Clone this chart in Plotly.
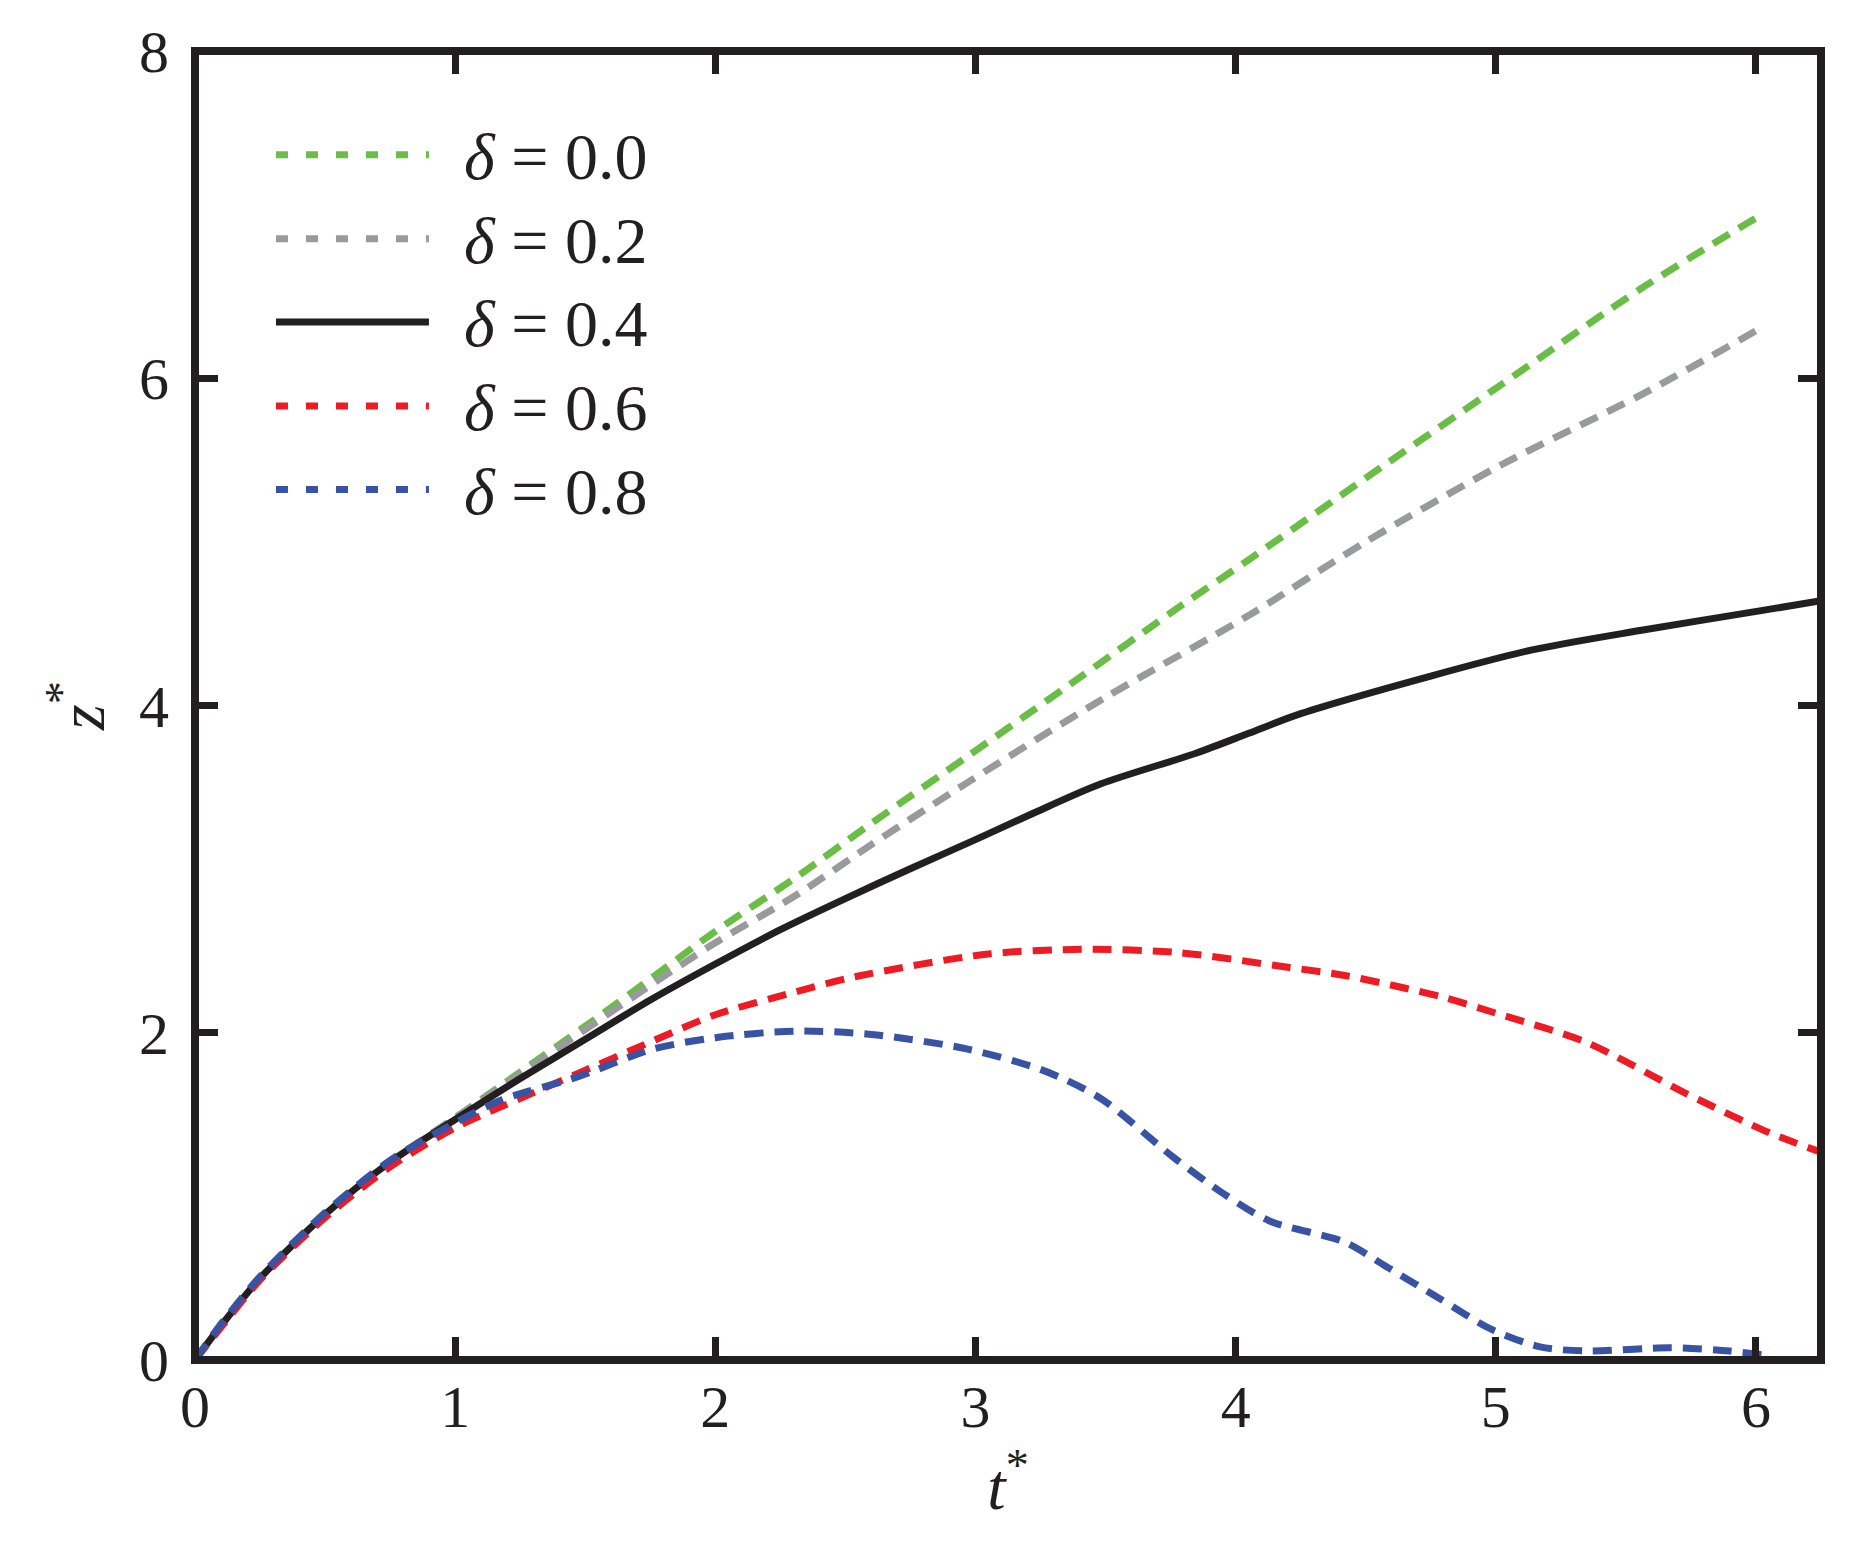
import plotly.graph_objects as go

# ---- data ----
t_d00 = [0, 0.1, 0.25, 0.5, 0.75, 1.0, 1.25, 1.5, 1.76, 2.0, 2.31, 2.6, 2.97, 3.4, 3.79, 4.05, 4.5, 5.02, 5.56, 6.0]
z_d00 = [0, 0.21, 0.5, 0.89, 1.21, 1.48, 1.76, 2.04, 2.34, 2.62, 2.95, 3.28, 3.69, 4.17, 4.61, 4.89, 5.39, 5.96, 6.55, 6.98]

t_d02 = [0, 0.1, 0.25, 0.5, 0.75, 1.0, 1.25, 1.5, 1.76, 2.0, 2.31, 2.6, 2.97, 3.5, 4.05, 4.5, 5.02, 5.56, 6.0]
z_d02 = [0, 0.21, 0.5, 0.89, 1.21, 1.48, 1.75, 2.02, 2.30, 2.55, 2.84, 3.15, 3.53, 4.05, 4.55, 5.0, 5.47, 5.90, 6.29]

t_d04 = [0, 0.1, 0.25, 0.5, 0.75, 1.0, 1.25, 1.5, 1.75, 2.0, 2.25, 2.5, 2.76, 3.0, 3.22, 3.48, 3.85, 4.05, 4.25, 4.75, 5.14, 5.56, 6.02, 6.25]
z_d04 = [0, 0.21, 0.5, 0.89, 1.21, 1.47, 1.72, 1.96, 2.20, 2.42, 2.63, 2.82, 3.01, 3.18, 3.34, 3.52, 3.71, 3.83, 3.95, 4.18, 4.34, 4.46, 4.58, 4.64]

t_d06 = [0, 0.1, 0.25, 0.5, 0.75, 1.0, 1.18, 1.47, 1.76, 2.0, 2.31, 2.53, 3.04, 3.41, 3.78, 4.2, 4.42, 4.79, 5.0, 5.35, 5.73, 6.05, 6.25]
z_d06 = [0, 0.2, 0.49, 0.87, 1.18, 1.42, 1.55, 1.75, 1.95, 2.11, 2.25, 2.34, 2.48, 2.51, 2.49, 2.40, 2.35, 2.22, 2.12, 1.94, 1.63, 1.39, 1.27]

t_d08 = [0, 0.1, 0.25, 0.5, 0.75, 1.0, 1.18, 1.47, 1.76, 2.0, 2.31, 2.6, 2.97, 3.26, 3.48, 3.76, 3.95, 4.13, 4.42, 4.58, 4.79, 4.98, 5.17, 5.35, 5.67, 5.9, 6.03]
z_d08 = [0, 0.22, 0.51, 0.9, 1.22, 1.45, 1.59, 1.73, 1.9, 1.97, 2.01, 1.99, 1.9, 1.77, 1.6, 1.24, 1.02, 0.85, 0.72, 0.57, 0.37, 0.19, 0.08, 0.055, 0.075, 0.055, 0.03]

labels = ["0.0", "0.2", "0.4", "0.6", "0.8"]
colors = ["#6abd45", "#999a9e", "#231f20", "#ed1c24", "#3853a4"]
dashes = ["19px,11px", "19px,11px", "solid", "19px,11px", "19px,11px"]
legend_dashes = ["12px,18px", "12px,18px", "solid", "12px,18px", "12px,18px"]
x_ticks = [0, 1, 2, 3, 4, 5, 6]
y_ticks = [0, 2, 4, 6, 8]

series = [(t_d00, z_d00), (t_d02, z_d02), (t_d04, z_d04), (t_d06, z_d06), (t_d08, z_d08)]

FONT = "Liberation Serif, Times New Roman, serif"
INK = "#231f20"

fig = go.Figure()
for (t, z), lab, c, d in zip(series, labels, colors, dashes):
    fig.add_trace(go.Scatter(x=t, y=z, mode="lines", name=lab,
                             line=dict(color=c, width=7, dash=d, shape="spline", smoothing=0.8),
                             showlegend=False))

W, H = 1866, 1561
L, R, T, B = 195, 1821.5, 50.5, 1360.5

def px_x(p):
    return (p - L) / (R - L)

def px_y(p):
    return (B - p) / (B - T)

shapes = [dict(type="rect", xref="paper", yref="paper", x0=0, x1=1, y0=0, y1=1,
               line=dict(color=INK, width=8), layer="above")]
annotations = []
leg_y = [154.3, 238.3, 321.7, 405.7, 489.3]
for yy, lab, c, d in zip(leg_y, labels, colors, legend_dashes):
    shapes.append(dict(type="line", xref="paper", yref="paper",
                       x0=px_x(276), x1=px_x(429), y0=px_y(yy), y1=px_y(yy),
                       line=dict(color=c, width=7, dash=d)))
    annotations.append(dict(xref="paper", yref="paper", x=px_x(462), y=px_y(yy + 2),
                            xanchor="left", yanchor="middle", showarrow=False,
                            text="<i>δ</i> = " + lab,
                            font=dict(family=FONT, size=66, color=INK)))

fig.update_layout(
    width=W, height=H,
    margin=dict(l=L, r=W - R, t=T, b=H - B, pad=0),
    paper_bgcolor="white", plot_bgcolor="white",
    shapes=shapes, annotations=annotations,
    xaxis=dict(range=[0, 6.25], tickvals=x_ticks, ticktext=[str(v) for v in x_ticks],
               ticks="inside", ticklen=23, tickwidth=7, tickcolor=INK, mirror="ticks",
               showline=False, showgrid=False, zeroline=False, ticklabelstandoff=6,
               tickfont=dict(family=FONT, size=60, color=INK),
               title=dict(text="<i>t</i><sup>*</sup>", font=dict(family=FONT, size=66, color=INK), standoff=12)),
    yaxis=dict(range=[0, 8], tickvals=y_ticks, ticktext=[str(v) for v in y_ticks],
               ticks="inside", ticklen=23, tickwidth=7, tickcolor=INK, mirror="ticks",
               showline=False, showgrid=False, zeroline=False, ticklabelstandoff=25,
               tickfont=dict(family=FONT, size=60, color=INK),
               title=dict(text="<i>z</i><sup>*</sup>", font=dict(family=FONT, size=66, color=INK), standoff=12)),
)

fig.write_html("out.html")
